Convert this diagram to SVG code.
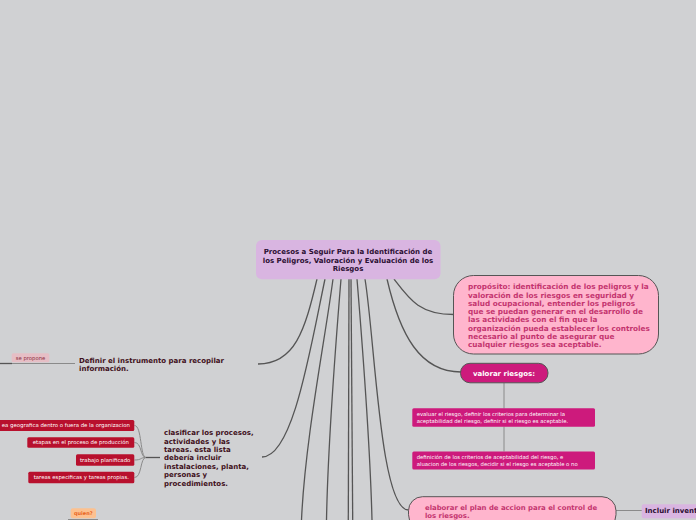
<svg xmlns="http://www.w3.org/2000/svg" width="696" height="520" viewBox="0 0 696 520">
<style>
.bg{fill:#d0d1d3}
.c{fill:none;stroke:#555;stroke-width:1.3}
.cl{fill:none;stroke:#8a8a8a;stroke-width:1}
.b{font-family:"DejaVu Sans",Verdana,sans-serif;font-weight:bold}
.r{font-family:"DejaVu Sans",Verdana,sans-serif}
.pink{fill:#ffb5cd;stroke:#555;stroke-width:1}
.pinkt{fill:#c4346f}
.mag{fill:#cd1a7c}
.red{fill:#b8102d}
.wt{fill:#fff}
.dt{fill:#3f1020;font-size:7px}
.sm{font-size:5.3px}
</style>
<rect class="bg" x="0" y="0" width="696" height="520"/>
<g id="connectors">
<path class="c" d="M317,279 C305,330 295,364 258,364"/>
<path class="c" d="M325,279 C310,350 293,457 262,457"/>
<path class="c" d="M333,279 C325,340 305,440 301.5,520"/>
<path class="c" d="M341,279 C336,340 328,440 326.5,520"/>
<path class="c" d="M349,279 L348.3,520"/>
<path class="c" d="M351,279 L352.7,520"/>
<path class="c" d="M357,279 C362,340 370,440 372,520"/>
<path class="c" d="M365,279 C375,340 380,510 408.5,510"/>
<path class="c" d="M387,279 C400,335 420,372 461,372"/>
<path class="c" d="M394,279 C410,300 420,314.5 454,314.5"/>
<path class="cl" d="M504,383 L504,408.5 M504,426.5 L504,451.5"/>
<path class="cl" d="M616,510.5 L642,510.5"/>
<path class="cl" d="M12,363.5 L75,363.5"/>
<path class="c" d="M0,363.5 L12,363.5"/>
<path class="c" d="M146,457.5 L160,457.5"/>
<path class="cl" d="M146,457.5 C140,457.5 142,425.5 134.5,425.5 M146,457.5 C140,457.5 142,442.5 134.5,442.5 M146,457.5 C140,457.5 142,460 134.5,460 M146,457.5 C140,457.5 142,477.5 134.5,477.5"/>
<path class="cl" d="M68,519.5 L98,519.5"/>
</g>
<g id="central">
<rect x="256" y="240" width="184.5" height="39.3" rx="6" fill="#d9b5e1"/>
<text class="b" font-size="7" fill="#2b0f33" text-anchor="middle"><tspan x="348" y="254.3">Procesos a Seguir Para la Identificación de</tspan><tspan x="348" y="262.5">los Peligros, Valoración y Evaluación de los</tspan><tspan x="348" y="270.7">Riesgos</tspan></text>
</g>
<g id="proposito">
<rect class="pink" x="453.5" y="275.5" width="205" height="78.5" rx="20"/>
<text class="b pinkt" font-size="7.3"><tspan x="468" y="289.3">propósito: identificación de los peligros y la</tspan><tspan x="468" y="297.5">valoración de los riesgos en seguridad y</tspan><tspan x="468" y="305.8">salud ocupacional, entender los peligros</tspan><tspan x="468" y="314">que se puedan generar en el desarrollo de</tspan><tspan x="468" y="322.3">las actividades con el fin que la</tspan><tspan x="468" y="330.5">organización pueda establecer los controles</tspan><tspan x="468" y="338.7">necesario al punto de asegurar que</tspan><tspan x="468" y="347">cualquier riesgos sea aceptable.</tspan></text>
</g>
<g id="valorar">
<rect class="mag" x="460.5" y="363.3" width="87.5" height="19.5" rx="9.5" stroke="#555" stroke-width="1"/>
<text class="b wt" font-size="7" x="504" y="376.3" text-anchor="middle">valorar riesgos:</text>
</g>
<g id="evaluar">
<rect class="mag" x="412.3" y="408.3" width="182.7" height="18.4" rx="1.5"/>
<text class="r wt sm"><tspan x="416.7" y="415.9">evaluar el riesgo, definir los criterios para determinar la</tspan><tspan x="416.7" y="423.1">aceptabilidad del riesgo, definir si el riesgo es aceptable.</tspan></text>
</g>
<g id="definicion">
<rect class="mag" x="412.3" y="451.5" width="182.7" height="18" rx="1.5"/>
<text class="r wt sm"><tspan x="416.7" y="459">definición de los criterios de aceptabilidad del riesgo, e</tspan><tspan x="416.7" y="466">aluacion de los riesgos, decidir si el riesgo es aceptable o no</tspan></text>
</g>
<g id="elaborar">
<rect class="pink" x="408.5" y="496.7" width="207.5" height="32" rx="14"/>
<text class="b pinkt" font-size="6.9"><tspan x="425" y="510">elaborar el plan de accion para el control de</tspan><tspan x="425" y="517.5">los riesgos.</tspan></text>
</g>
<g id="incluir">
<rect x="641.7" y="504.3" width="60" height="14" rx="2" fill="#d9b5e1"/>
<text class="b" font-size="7" fill="#2b0f33" x="645" y="513">Incluir invent</text>
</g>
<g id="definir">
<text class="b dt"><tspan x="79" y="363.3">Definir el instrumento para recopilar</tspan><tspan x="79" y="371.3">información.</tspan></text>
</g>
<g id="sepropone">
<rect x="11.7" y="353.3" width="37.6" height="9" rx="1.5" fill="#e6bec5"/>
<text class="r" font-size="5.3" fill="#8b2a3a" x="30.5" y="359.7" text-anchor="middle">se propone</text>
</g>
<g id="clasificar">
<text class="b dt"><tspan x="164" y="435">clasificar los procesos,</tspan><tspan x="164" y="443.5">actividades y las</tspan><tspan x="164" y="452">tareas. esta lista</tspan><tspan x="164" y="460.4">debería incluir</tspan><tspan x="164" y="468.9">instalaciones, planta,</tspan><tspan x="164" y="477.3">personas y</tspan><tspan x="164" y="485.8">procedimientos.</tspan></text>
</g>
<g id="area">
<rect class="red" x="-2" y="420" width="136.3" height="11" rx="1.5"/>
<text class="r wt" font-size="5.4" x="130" y="427.4" text-anchor="end">ea geografica dentro o fuera de la organizacion</text>
</g>
<g id="etapas">
<rect class="red" x="27.3" y="437.3" width="107" height="10.4" rx="1.5"/>
<text class="r wt" font-size="5.4" x="80.8" y="444.4" text-anchor="middle">etapas en el proceso de producción</text>
</g>
<g id="trabajo">
<rect class="red" x="76" y="454.3" width="58.3" height="11.4" rx="1.5"/>
<text class="r wt" font-size="5.4" x="105.2" y="461.9" text-anchor="middle">trabajo planificado</text>
</g>
<g id="tareas">
<rect class="red" x="28.3" y="471.7" width="106" height="11.6" rx="1.5"/>
<text class="r wt" font-size="5.4" x="81.3" y="479.4" text-anchor="middle">tareas especificas y tareas propias.</text>
</g>
<g id="quien">
<rect x="70.7" y="508.3" width="25.3" height="10" rx="2" fill="#fcc190"/>
<text class="b" font-size="5" fill="#e8651f" x="83.3" y="515" text-anchor="middle">quien?</text>
</g>
</svg>
